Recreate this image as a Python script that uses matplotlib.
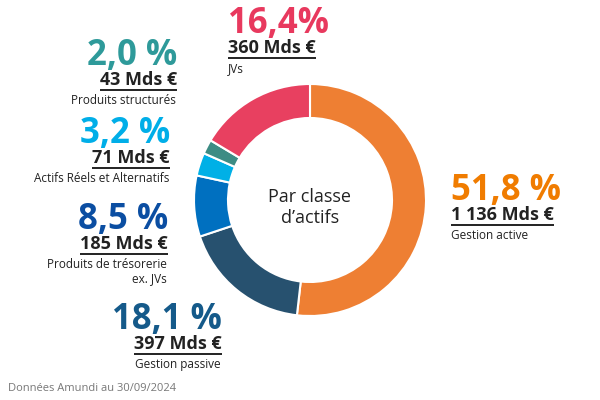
import matplotlib
matplotlib.use("Agg")
import matplotlib.pyplot as plt

# données (Amundi, par classe d'actifs)
classes = ["Gestion active", "Gestion passive", "Produits de trésorerie\nex. JVs",
           "Actifs Réels et Alternatifs", "Produits structurés", "JVs"]
parts = [51.8, 18.1, 8.5, 3.2, 2.0, 16.4]
pct_txt = ["51,8 %", "18,1 %", "8,5 %", "3,2 %", "2,0 %", "16,4%"]
encours = ["1 136 Mds €", "397 Mds €", "185 Mds €", "71 Mds €", "43 Mds €", "360 Mds €"]
couleurs = ["#ee7f33", "#27516f", "#0070c0", "#00b0e6", "#3d8c84", "#e84060"]
couleurs_txt = ["#f07c00", "#155a8a", "#0b4ea2", "#00aee8", "#2e9a9a", "#e8395e"]

# position des blocs de texte (x, baseline du %, alignement), en pixels depuis le haut
blocs = [(451, 200, "left"), (222, 329, "right"), (168, 229, "right"),
         (170, 143, "right"), (177, 65, "right"), (228, 33, "left")]

plt.rcParams['font.family'] = ['Open Sans', 'DejaVu Sans']

fig = plt.figure(figsize=(6, 4), dpi=100)
ax = fig.add_axes([0, 0, 1, 1])
ax.set_xlim(0, 600)
ax.set_ylim(0, 400)
ax.set_aspect("equal")
ax.axis("off")

ax.pie(parts, colors=couleurs, startangle=90, counterclock=False,
       center=(310, 200), radius=116,
       wedgeprops=dict(width=34, edgecolor="white", linewidth=1.5))
ax.set_xlim(0, 600)
ax.set_ylim(0, 400)

ax.text(310, 400 - 202, "Par classe", ha="center", va="baseline",
        fontsize=13, color="#222222")
ax.text(310, 400 - 223, "d\u2019actifs", ha="center", va="baseline",
        fontsize=13, color="#222222")

fig.canvas.draw()
rend = fig.canvas.get_renderer()

for i in range(len(parts)):
    x, yb, ha = blocs[i]
    ax.text(x, 400 - yb, pct_txt[i], ha=ha, va="baseline", fontsize=25,
            fontweight="bold", color=couleurs_txt[i])
    t = ax.text(x, 400 - (yb + 20), encours[i], ha=ha, va="baseline",
                fontsize=13, fontweight="bold", color="#222222")
    bb = t.get_window_extent(renderer=rend)
    y_line = 400 - (yb + 25)
    ax.plot([bb.x0, bb.x1], [y_line, y_line], color="#222222", lw=1.4,
            solid_capstyle="butt")
    lignes = classes[i].split("\n")
    for k, lig in enumerate(lignes):
        ax.text(x if ha == "left" else x - 1, 400 - (yb + 39 + 14 * k), lig,
                ha=ha, va="baseline", fontsize=8.5, color="#222222")

ax.text(8, 400 - 391, "Données Amundi au 30/09/2024", ha="left", va="baseline",
        fontsize=8, color="#777777")

fig.savefig("out.png", dpi=100)
